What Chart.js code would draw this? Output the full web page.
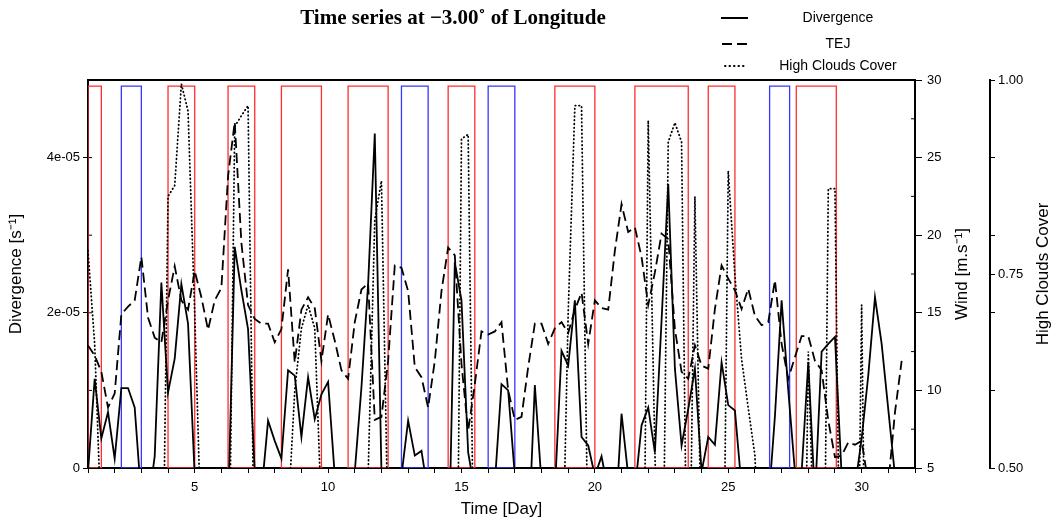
<!DOCTYPE html>
<html lang="en">
<head>
    <meta charset="UTF-8">
    <title>Time series at -3.00 of Longitude</title>
    <script src="https://cdn.jsdelivr.net/npm/chart.js"></script>
    <style>
        html, body { margin: 0; padding: 0; background: #fff; }
        .chart-container { position: relative; width: 1057px; height: 520px; }
    </style>
</head>
<body>
    <div class="chart-container">
        <canvas id="tsChart"></canvas>
    </div>

    <script>
        // 6-hourly samples, first one at day 1
        const firstDay = 1;
        const stepDay = 0.25;
        const nSteps = 124;

        // divergence, in units of 1e-05 s^-1 (negative values fall below the plot)
        const divergence = [
            -0.05, 1.15, 0.38, 0.72,
            0.12, 1.03, 1.03, 0.78,
            -0.4, -0.5, 0.15, 2.39,
            0.97, 1.41, 2.37, 1.86,
            -0.1, -0.3, -0.3, -0.3,
            -0.3, -0.6, 2.85, 2.29,
            1.79, -0.05, -0.33, 0.61,
            0.35, 0.12, 1.26, 1.19,
            0.4, 1.17, 0.63, 0.95,
            1.11, -0.1, -0.3, -0.3,
            -0.05, 1.04, 2.37, 4.31,
            -0.05, -0.3, -0.3, -0.1,
            0.61, 0.16, 0.22, -0.33,
            -0.3, -0.3, -1.5, 2.65,
            2.16, 0.2, -0.3, -0.3,
            -0.3, -0.2, 1.08, 1.0,
            -0.1, -0.3, -1.0, 1.07,
            -0.2, -0.3, -0.3, 1.51,
            1.32, 2.16, 0.4, 0.29,
            -0.1, 0.15, -0.3, -0.8,
            0.7, -0.1, -0.3, 0.55,
            0.78, 0.2, 1.9, 3.66,
            1.28, 0.29, 0.76, 1.28,
            -0.05, 0.4, 0.3, 1.36,
            0.81, 0.74, -0.25, -0.3,
            -0.3, -0.3, -0.5, 0.67,
            2.16, 1.0, -0.05, -0.05,
            1.36, -0.4, 1.5, 1.6,
            1.69, -0.1, -0.3, -0.25,
            0.38, 1.2, 2.2, 1.6,
            0.75, -0.1, -0.3, -0.3
        ];

        // TEJ wind speed, m/s
        const tej = [
            12.9, 12.25, 11.2, 8.9,
            9.8, 14.9, 15.4, 15.8,
            18.6, 14.7, 13.4, 13.1,
            15.8, 18.0, 15.8, 15.2,
            17.7, 16.0, 13.9, 15.8,
            16.6, 23.8, 27.3, 19.5,
            15.5, 14.6, 14.3, 14.3,
            13.1, 13.95, 17.8, 11.8,
            15.2, 16.0, 15.3, 11.9,
            14.9, 13.2, 11.3, 10.75,
            14.4, 16.5, 16.9, 8.1,
            8.3, 11.9, 18.05, 17.9,
            16.4, 11.5, 10.85, 8.9,
            11.9, 16.4, 19.2, 18.7,
            11.7, 7.4, 10.4, 13.8,
            13.6, 13.8, 14.4, 10.0,
            8.1, 8.3, 11.5, 14.3,
            14.3, 13.0, 14.0, 14.4,
            13.7, 15.2, 16.3, 13.0,
            15.8, 15.3, 15.2, 19.0,
            22.0, 20.2, 20.5, 18.6,
            15.5, 17.6, 20.1, 19.75,
            13.95, 11.2, 10.75, 12.9,
            11.6, 11.4, 15.25, 18.05,
            17.2, 16.45, 15.25, 16.55,
            14.8, 14.2, 14.4, 17.1,
            13.0, 10.75, 12.15, 13.5,
            13.5, 11.9, 11.3, 8.05,
            5.7, 5.8, 6.65, 6.5,
            6.75, 4.0, 3.5, 3.5,
            4.0, 8.6, 11.9, null
        ];

        // high clouds cover fraction (below 0.5 is off the plot)
        const highClouds = [
            0.78, 0.66, 0.42, 0.3,
            0.3, 0.3, 0.3, 0.3,
            0.3, 0.3, 0.3, 0.2,
            0.85, 0.864, 0.995, 0.96,
            0.7, 0.4, 0.3, 0.3,
            0.3, 0.25, 0.94, 0.954,
            0.967, 0.34, 0.3, 0.3,
            0.3, 0.3, 0.44, 0.6,
            0.68, 0.71, 0.68, 0.44,
            0.3, 0.3, 0.3, 0.3,
            0.3, 0.3, 0.49, 0.82,
            0.87, 0.41, 0.3, 0.3,
            0.3, 0.3, 0.3, 0.3,
            0.3, 0.3, 0.3, 0.0,
            0.924, 0.93, 0.26, 0.3,
            0.3, 0.3, 0.3, 0.3,
            0.3, 0.3, 0.3, 0.3,
            0.3, 0.3, 0.3, 0.3,
            0.7, 0.967, 0.967, 0.38,
            0.3, 0.3, 0.3, 0.3,
            0.3, 0.3, 0.3, 0.0,
            0.948, 0.52, 0.2, 0.92,
            0.945, 0.92, 0.2, 0.85,
            0.38, 0.3, 0.3, 0.1,
            0.883, 0.748, 0.64, 0.577,
            0.516, 0.3, 0.3, 0.3,
            0.3, 0.3, 0.3, 0.0,
            0.65, 0.35, 0.0, 0.86,
            0.86, 0.15, 0.3, 0.0,
            0.71, 0.0, 0.3, 0.3,
            0.3, 0.3, 0.3, 0.3
        ];

        // highlighted periods [start day, end day]
        const redSpans = [
            [1, 1.5], [4, 5], [6.25, 7.25], [8.25, 9.75], [10.75, 12.25],
            [14.5, 15.5], [18.5, 20], [21.5, 23.5], [24.25, 25.25], [27.55, 29.05]
        ];
        const blueSpans = [
            [2.25, 3], [12.75, 13.75], [16, 17], [26.55, 27.3]
        ];
        const boxTop = 4.92; // in divergence units

        const days = Array.from({ length: nSteps }, (_, i) => firstDay + i * stepDay);
        const asPoints = arr => arr.map((v, i) => ({ x: days[i], y: v }));

        function spanDataset(span, color) {
            const [a, b] = span;
            return {
                data: [{ x: a, y: 0 }, { x: a, y: boxTop }, { x: b, y: boxTop }, { x: b, y: 0 }, { x: a, y: 0 }],
                borderColor: color,
                borderWidth: 1.3,
                pointRadius: 0,
                yAxisID: 'y',
                order: 5
            };
        }

        const FONT = "'Liberation Sans', Arial, sans-serif";
        Chart.defaults.font.family = FONT;
        Chart.defaults.color = '#000';

        // frame, inward minor ticks, title, legend and right-hand axis titles
        const decor = {
            id: 'decor',
            beforeDatasetsDraw(chart) {
                const { ctx, chartArea: a, scales } = chart;
                ctx.save();
                ctx.strokeStyle = '#000';
                ctx.lineWidth = 2;
                ctx.beginPath();
                ctx.moveTo(a.left - 1, a.top);
                ctx.lineTo(a.right + 1, a.top);
                ctx.stroke();

                ctx.lineWidth = 1;
                ctx.beginPath();
                [1, 2, 3, 4].forEach(v => {
                    const y = scales.y.getPixelForValue(v);
                    ctx.moveTo(a.left, y); ctx.lineTo(a.left + 4, y);
                });
                [7.5, 12.5, 17.5, 22.5, 27.5].forEach(v => {
                    const y = scales.wind.getPixelForValue(v);
                    ctx.moveTo(a.right, y); ctx.lineTo(a.right - 4, y);
                });
                ctx.stroke();
                ctx.restore();
            },
            afterDraw(chart) {
                const { ctx, scales } = chart;
                ctx.save();
                ctx.fillStyle = '#000';
                ctx.textAlign = 'center';
                ctx.textBaseline = 'middle';

                ctx.font = "bold 21px 'Liberation Serif', 'DejaVu Serif', serif";
                ctx.fillText('Time series at \u22123.00\u02DA of Longitude', 453, 19);

                // legend
                const rows = [
                    { label: 'Divergence', dash: [], y: 18, x0: 721, x1: 748 },
                    { label: 'TEJ', dash: [10, 5], y: 44, x0: 722, x1: 748 },
                    { label: 'High Clouds Cover', dash: [0.5, 4], y: 66, x0: 725, x1: 746 }
                ];
                ctx.font = '14px ' + FONT;
                rows.forEach(r => {
                    ctx.save();
                    ctx.strokeStyle = '#000';
                    ctx.lineWidth = 2;
                    ctx.lineCap = r.dash.length && r.dash[0] < 1 ? 'round' : 'butt';
                    ctx.setLineDash(r.dash);
                    ctx.beginPath();
                    ctx.moveTo(r.x0, r.y);
                    ctx.lineTo(r.x1, r.y);
                    ctx.stroke();
                    ctx.restore();
                    ctx.fillText(r.label, 838, r.y);
                });

                // right axis titles, reading bottom to top
                ctx.font = '17px ' + FONT;
                const vText = (text, x, y) => {
                    ctx.save();
                    ctx.translate(x, y);
                    ctx.rotate(-Math.PI / 2);
                    ctx.fillText(text, 0, 0);
                    ctx.restore();
                };
                const midY = (chart.chartArea.top + chart.chartArea.bottom) / 2;
                vText('Wind [m.s\u207B\u00B9]', scales.wind.left + 47, midY);
                vText('High Clouds Cover', scales.hcc.left + 53, midY);
                ctx.restore();
            }
        };

        const ctx = document.getElementById('tsChart').getContext('2d');
        const tsChart = new Chart(ctx, {
            type: 'line',
            data: {
                datasets: [
                    {
                        label: 'Divergence',
                        data: asPoints(divergence),
                        borderColor: '#000',
                        borderWidth: 1.8,
                        pointRadius: 0,
                        yAxisID: 'y',
                        order: 1
                    },
                    {
                        label: 'TEJ',
                        data: asPoints(tej),
                        borderColor: '#000',
                        borderWidth: 1.8,
                        borderDash: [10, 5],
                        pointRadius: 0,
                        yAxisID: 'wind',
                        order: 1
                    },
                    {
                        label: 'High Clouds Cover',
                        data: asPoints(highClouds),
                        borderColor: '#000',
                        borderWidth: 1.8,
                        borderDash: [0.5, 3.3],
                        borderCapStyle: 'round',
                        pointRadius: 0,
                        yAxisID: 'hcc',
                        order: 1
                    },
                    ...redSpans.map(s => spanDataset(s, 'rgb(255, 45, 45)')),
                    ...blueSpans.map(s => spanDataset(s, 'rgb(55, 55, 255)'))
                ]
            },
            options: {
                responsive: true,
                maintainAspectRatio: false,
                animation: false,
                layout: { padding: { top: 80, left: 0, right: 0, bottom: 0 } },
                plugins: {
                    legend: { display: false },
                    tooltip: { enabled: false },
                    title: { display: false }
                },
                scales: {
                    x: {
                        type: 'linear',
                        min: 1,
                        max: 32,
                        ticks: {
                            stepSize: 1,
                            autoSkip: false,
                            maxRotation: 0,
                            padding: 7,
                            font: { size: 13 },
                            callback: v => (v % 5 === 0 ? String(v) : '')
                        },
                        grid: { drawOnChartArea: false, tickLength: 5, tickColor: '#000' },
                        border: { color: '#000', width: 2 },
                        title: {
                            display: true,
                            text: 'Time [Day]',
                            font: { size: 17 },
                            padding: { top: 0, bottom: 0 }
                        },
                        afterFit: s => { s.height = 52; }
                    },
                    y: {
                        position: 'left',
                        min: 0,
                        max: 5,
                        ticks: {
                            stepSize: 1,
                            padding: 3,
                            font: { size: 13 },
                            callback: v => (v === 0 ? '0' : (v % 2 === 0 ? v + 'e-05' : ''))
                        },
                        grid: {
                            drawOnChartArea: false,
                            tickLength: 5,
                            tickColor: c => (c.tick && c.tick.value % 2 === 0 ? '#000' : 'rgba(0,0,0,0)')
                        },
                        border: { color: '#000', width: 2 },
                        title: {
                            display: true,
                            text: 'Divergence [s\u207B\u00B9]',
                            font: { size: 17 },
                            padding: { top: 6, bottom: 0 }
                        },
                        afterFit: s => { s.width = 88; }
                    },
                    wind: {
                        position: 'right',
                        min: 5,
                        max: 30,
                        ticks: {
                            stepSize: 2.5,
                            padding: 5,
                            font: { size: 13 },
                            callback: v => (v % 5 === 0 ? String(v) : '')
                        },
                        grid: {
                            drawOnChartArea: false,
                            tickLength: 7,
                            tickColor: c => (c.tick && c.tick.value % 5 === 0 ? '#000' : 'rgba(0,0,0,0)')
                        },
                        border: { color: '#000', width: 2 },
                        afterFit: s => { s.width = 75; }
                    },
                    hcc: {
                        position: 'right',
                        min: 0.5,
                        max: 1.0,
                        ticks: {
                            stepSize: 0.05,
                            padding: 3,
                            font: { size: 13 },
                            callback: v => ([50, 75, 100].includes(Math.round(v * 100)) ? v.toFixed(2) : '')
                        },
                        grid: {
                            drawOnChartArea: false,
                            tickLength: 5,
                            tickColor: c => {
                                const p = c.tick ? Math.round(c.tick.value * 100) : 1;
                                return (p % 10 === 0 || p === 75) ? '#000' : 'rgba(0,0,0,0)';
                            }
                        },
                        border: { color: '#000', width: 2 },
                        afterFit: s => { s.width = 67; }
                    }
                }
            },
            plugins: [decor]
        });
    </script>
</body>
</html>
